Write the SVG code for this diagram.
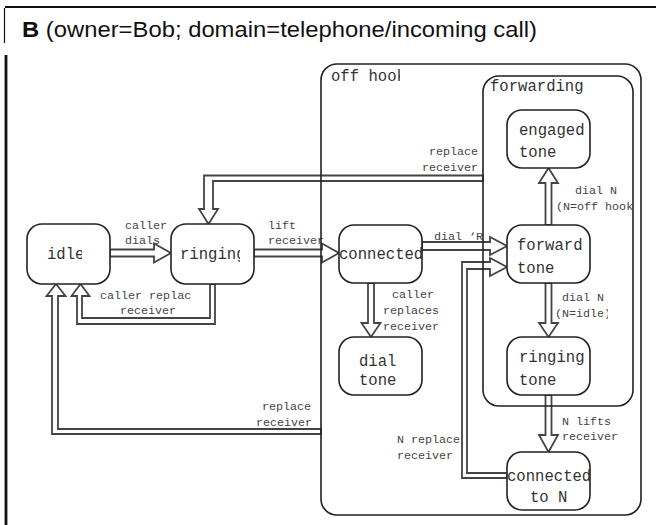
<svg xmlns="http://www.w3.org/2000/svg" width="656" height="525" viewBox="0 0 656 525">
<style>
.node{fill:#fff;stroke:#222;stroke-width:1.6}
.cont{fill:none;stroke:#222;stroke-width:1.6}
.arr{fill:#fff;stroke:#444;stroke-width:1.8;stroke-linejoin:miter}
.nt{font-family:"Liberation Mono",monospace;font-size:15.6px;fill:#333}
.lb{font-family:"Liberation Mono",monospace;font-size:11.7px;fill:#444}
.title{font-family:"Liberation Sans",Arial,sans-serif;font-size:21.5px;fill:#111}
</style>
<defs>
<clipPath id="cIdle"><rect x="27" y="224" width="55" height="60"/></clipPath>
<clipPath id="cRing"><rect x="171" y="224" width="69" height="60"/></clipPath>
<clipPath id="cOff"><rect x="325" y="66" width="75" height="20"/></clipPath>
<clipPath id="cDialR"><rect x="430" y="228" width="53" height="16"/></clipPath>
<clipPath id="cOffHook"><rect x="550" y="198" width="83" height="16"/></clipPath>
<clipPath id="cIdleN"><rect x="550" y="305" width="58" height="16"/></clipPath>
<clipPath id="cRepl"><rect x="95" y="287" width="96" height="16"/></clipPath>
<clipPath id="cNRepl"><rect x="390" y="432" width="70" height="16"/></clipPath>
</defs>

<g id="frame">
<line x1="5" y1="7" x2="656" y2="7" stroke="#111" stroke-width="2.2"/>
<line x1="4.5" y1="8" x2="4.5" y2="43" stroke="#111" stroke-width="1.2"/>
<line x1="6" y1="55" x2="6" y2="525" stroke="#111" stroke-width="2.8"/>
<text class="title" x="22" y="37" textLength="515" lengthAdjust="spacingAndGlyphs"><tspan font-weight="bold">B</tspan> (owner=Bob; domain=telephone/incoming call)</text>
</g>

<g id="connectors">
<polygon class="arr" points="110,249.5 154,249.5 154,243.5 171,253 154,262.5 154,256.5 110,256.5"/>
<polygon class="arr" points="254,249.5 322,249.5 322,243.5 339,253 322,262.5 322,256.5 254,256.5"/>
<polygon class="arr" points="422,242 490,242 490,237 507,246 490,255 490,250 422,250"/>
<polygon class="arr" points="368,283 368,323 361.5,323 371,337 380.5,323 374,323 374,283"/>
<polygon class="arr" points="545.5,225 545.5,183 539,183 548.5,168 558,183 551.5,183 551.5,225"/>
<polygon class="arr" points="545.5,283 545.5,323 539,323 548.5,337 558,323 551.5,323 551.5,283"/>
<polygon class="arr" points="545.5,395 545.5,435 539,435 548.5,452 558,435 551.5,435 551.5,395"/>
<polygon class="arr" points="483,175.5 204,175.5 204,209 199,209 208.5,224 218,209 213,209 213,181 483,181"/>
<polygon class="arr" points="215,284 215,324 77,324 77,296 71.5,296 80.5,284 89.5,296 82,296 82,318 210,318 210,284"/>
<polygon class="arr" points="321,434 52,434 52,296 46.5,296 56,284 65.5,296 58,296 58,429 321,429"/>
<polygon class="arr" points="507,478 462,478 462,262 490,262 490,258 507,267 490,276 490,269 467,269 467,473 507,473"/>
<text class="lb" x="125" y="229">caller</text>
<text class="lb" x="125" y="244">dials</text>
<text class="lb" x="268" y="229">lift</text>
<text class="lb" x="268" y="244">receiver</text>
<text class="lb" x="100" y="299" clip-path="url(#cRepl)">caller replaces</text>
<text class="lb" x="120" y="314">receiver</text>
<text class="lb" x="478" y="155" text-anchor="end">replace</text>
<text class="lb" x="478" y="171" text-anchor="end">receiver</text>
<text class="lb" x="575" y="194">dial N</text>
<text class="lb" x="556" y="210" clip-path="url(#cOffHook)">(N=off hook)</text>
<text class="lb" x="434" y="240" clip-path="url(#cDialR)">dial ‘R’</text>
<text class="lb" x="392" y="298">caller</text>
<text class="lb" x="383" y="314">replaces</text>
<text class="lb" x="383" y="330">receiver</text>
<text class="lb" x="562" y="301">dial N</text>
<text class="lb" x="555" y="317" clip-path="url(#cIdleN)">(N=idle)</text>
<text class="lb" x="562" y="425">N lifts</text>
<text class="lb" x="562" y="440">receiver</text>
<text class="lb" x="397" y="443" clip-path="url(#cNRepl)">N replaces</text>
<text class="lb" x="397" y="459">receiver</text>
<text class="lb" x="311" y="410" text-anchor="end">replace</text>
<text class="lb" x="312" y="426" text-anchor="end">receiver</text>
</g>

<g id="off_hook">
<rect class="cont" x="321" y="64" width="320" height="451" rx="16"/>
<text class="nt" x="331" y="81" clip-path="url(#cOff)">off hook</text>
</g>
<g id="forwarding">
<rect class="cont" x="483" y="76" width="150" height="330" rx="16"/>
<text class="nt" x="490" y="91">forwarding</text>
</g>

<g id="idle">
<rect class="node" x="27" y="224" width="83" height="60" rx="15"/>
<text class="nt" x="47" y="259" clip-path="url(#cIdle)">idle</text>
</g>
<g id="ringing">
<rect class="node" x="171" y="224" width="83" height="60" rx="15"/>
<text class="nt" x="180" y="259" clip-path="url(#cRing)">ringing</text>
</g>
<g id="connected">
<rect class="node" x="339" y="225" width="83" height="58" rx="15"/>
<text class="nt" x="339" y="259">connected</text>
</g>
<g id="dial_tone">
<rect class="node" x="339" y="337" width="83" height="58" rx="15"/>
<text class="nt" x="359" y="366">dial</text>
<text class="nt" x="359" y="385">tone</text>
</g>
<g id="engaged_tone">
<rect class="node" x="507" y="110" width="83" height="58" rx="15"/>
<text class="nt" x="519" y="135">engaged</text>
<text class="nt" x="519" y="157">tone</text>
</g>
<g id="forward_tone">
<rect class="node" x="507" y="225" width="83" height="58" rx="15"/>
<text class="nt" x="517" y="250">forward</text>
<text class="nt" x="517" y="273">tone</text>
</g>
<g id="ringing_tone">
<rect class="node" x="507" y="337" width="83" height="58" rx="15"/>
<text class="nt" x="519" y="362">ringing</text>
<text class="nt" x="519" y="385">tone</text>
</g>
<g id="connected_to_N">
<rect class="node" x="507" y="452" width="83" height="58" rx="15"/>
<text class="nt" x="507" y="481">connected</text>
<text class="nt" x="530" y="502">to N</text>
</g>
</svg>
